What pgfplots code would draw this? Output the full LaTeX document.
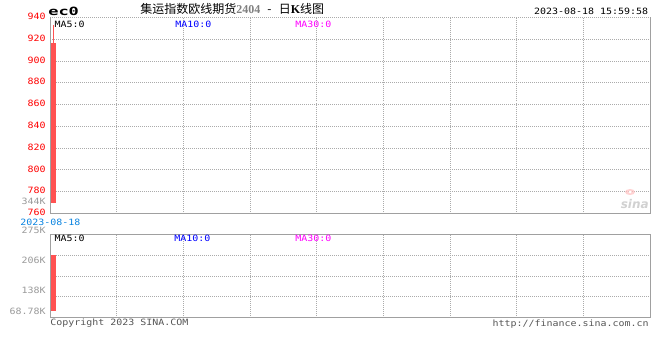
\documentclass[border=0pt]{standalone}
\usepackage{pgfplots}
\pgfplotsset{compat=1.18}
\usepackage{fontspec}
\setmainfont{DejaVu Sans}
\newfontfamily\pix[FakeStretch=1.15]{DejaVu Sans Mono}
\newfontfamily\ecf[FakeStretch=1.5]{DejaVu Sans Mono}
\newfontfamily\cjk{Noto Sans CJK SC}
\newfontfamily\ser{Liberation Serif}
\newcommand\pixf{\pix\fontsize{6.5pt}{7pt}\selectfont}
\definecolor{labred}{HTML}{FF0000}
\definecolor{candle}{HTML}{FF5252}
\definecolor{labgray}{HTML}{999999}
\definecolor{framegray}{HTML}{A0A0A0}
\definecolor{gridgray}{HTML}{ABABAB}
\definecolor{dateblue}{HTML}{0A84E0}
\definecolor{copygray}{HTML}{555555}
\definecolor{mablue}{HTML}{0000FF}
\definecolor{mamag}{HTML}{FF00FF}
\begin{document}
\begin{tikzpicture}
\useasboundingbox (0,0) rectangle (495pt,-270pt);
% ---------- price panel ----------
\begin{axis}[at={(37.5pt,-160.125pt)}, anchor=south west, scale only axis,
  width=450pt, height=147pt, xmin=0, xmax=600, ymin=760, ymax=940, clip=false,
  xtick={66.67,133.33,200,266.67,333.33,400,466.67,533.33}, xticklabels={},
  ytick={760,780,...,940},
  yticklabels={760,780,800,820,840,860,880,900,920,940},
  yticklabel style={font=\pixf, text=labred, inner sep=0pt, xshift=-3pt, yshift=0.75pt},
  grid=major, major grid style={gridgray, line width=0.75pt, dash pattern=on 0.75pt off 0.75pt},
  major tick length=0pt, axis line style={draw=none}]
\addplot[candle, line width=0.75pt, mark=none] coordinates {(3,769.4) (3,933)};
\addplot[candle, line width=4.5pt, mark=none] coordinates {(3,769.4) (3,916.6)};
\draw[framegray, line width=0.75pt] (rel axis cs:0,1) -- (rel axis cs:0,0) -- (rel axis cs:1,0) -- (rel axis cs:1,1);
\end{axis}
% ---------- volume panel ----------
\begin{axis}[at={(37.5pt,-238.275pt)}, anchor=south west, scale only axis,
  width=450pt, height=62.55pt, xmin=0, xmax=600, ymin=0, ymax=275, clip=false,
  xtick={66.67,133.33,200,266.67,333.33,400,466.67,533.33}, xticklabels={},
  ytick={68.75,137.5,206.25}, yticklabels={},
  grid=major, major grid style={gridgray, line width=0.75pt, dash pattern=on 0.75pt off 0.75pt},
  major tick length=0pt, axis line style={draw=none}]
\addplot[candle, line width=4.5pt, mark=none] coordinates {(3,23) (3,206.9)};
\draw[framegray, line width=0.75pt] (rel axis cs:0,0) rectangle (rel axis cs:1,1);
\end{axis}
% ---------- texts ----------
\begin{scope}[x=0.75pt, y=-0.75pt, every node/.style={inner sep=0pt}]
\node[anchor=base west] at (48,16) {\ecf\bfseries\fontsize{8.5pt}{9pt}\selectfont ec0};
\node[anchor=base west] at (140,13.5) {\cjk\fontsize{9pt}{10pt}\selectfont 集运指数欧线期货{\ser\bfseries\color{gray}2404}\hspace{0.6em}-\hspace{0.6em}日{\ser\bfseries K}线图};
\node[anchor=base east] at (648.5,15) {\pixf 2023-08-18 15:59:58};
\node[anchor=base west] at (54.3,27.3) {\pixf MA5:0};
\node[anchor=base west, text=mablue] at (175,27.3) {\pixf MA10:0};
\node[anchor=base west, text=mamag] at (295,27.3) {\pixf MA30:0};
\node[anchor=base west] at (54.3,241.5) {\pixf MA5:0};
\node[anchor=base west, text=mablue] at (174,241.5) {\pixf MA10:0};
\node[anchor=base west, text=mamag] at (295,241.5) {\pixf MA30:0};
\node[anchor=base east, text=labgray] at (46,204) {\pixf 344K};
\node[anchor=base west, text=dateblue] at (20,225) {\pixf 2023-08-18};
\node[anchor=base east, text=labgray] at (46,233.2) {\pixf 275K};
\node[anchor=base east, text=labgray] at (46,263.2) {\pixf 206K};
\node[anchor=base east, text=labgray] at (46,293.2) {\pixf 138K};
\node[anchor=base east, text=labgray] at (46,314.2) {\pixf 68.78K};
\node[anchor=base west, text=copygray] at (50,325.5) {\pixf Copyright 2023 SINA.COM};
\node[anchor=base east, text=copygray] at (649,326.5) {\pixf http://finance.sina.com.cn};
% sina watermark
\fill[red!25, opacity=0.7] (630,192) ellipse (5 and 3);
\fill[white] (630,192) circle (1.5);
\node[anchor=base east, text=black!18] at (649,208) {\fontsize{9pt}{9pt}\selectfont\bfseries\itshape sina};
\end{scope}
\end{tikzpicture}
\end{document}
